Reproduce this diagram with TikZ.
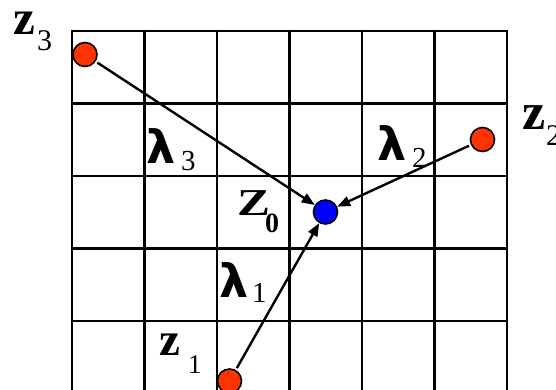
\documentclass[tikz,border=0pt]{standalone}
\usepackage{fontspec}
\setmainfont{Liberation Serif}
\newfontfamily\lamfont{DejaVu Sans}
\usetikzlibrary{arrows.meta}
\definecolor{dotred}{RGB}{255,51,0}
\definecolor{dotblue}{RGB}{0,0,255}
\tikzset{
  gridline/.style={line width=2.8pt, black},
  dot/.style={circle, draw=black, line width=1.6pt, minimum size=24pt, inner sep=0pt},
  conn/.style={line width=2.4pt, -{Triangle[length=13pt,width=10pt]}, shorten <=2pt, shorten >=0pt},
  lbl/.style={anchor=base west, inner sep=0pt, outer sep=0pt},
}
\begin{document}
\begin{tikzpicture}[x=1pt,y=-1pt]
\useasboundingbox (0,0) rectangle (556,389);
% grid
\foreach \i in {0,...,6} {
  \draw[gridline] (72+72.5*\i,29.6) -- (72+72.5*\i,395);
}
\foreach \j in {0,...,4} {
  \draw[gridline] (70.6,31+72.5*\j) -- (508.4,31+72.5*\j);
}
% dots
\node[dot, fill=dotred] (z3) at (85,54.5) {};
\node[dot, fill=dotred] (z2) at (482.5,139.5) {};
\node[dot, fill=dotred] (z1) at (229.5,381) {};
\node[dot, fill=dotblue] (z0) at (325.5,212) {};
% connectors
\draw[conn] (z3) -- (z0);
\draw[conn] (z2) -- (z0);
\draw[conn] (z1) -- (z0);
% labels
\node[lbl] (z3t) at (13,34) {\fontsize{49}{49}\selectfont\bfseries z};
\node[lbl] (z3s) at (37,50) {\fontsize{30}{30}\selectfont 3};
\node[lbl] (z2t) at (522,129) {\fontsize{52}{52}\selectfont\bfseries z};
\node[lbl] (z2s) at (546,145) {\fontsize{30}{30}\selectfont 2};
\node[lbl] (z1t) at (159,355) {\fontsize{47}{47}\selectfont\bfseries z};
\node[lbl] (z1s) at (188,373) {\fontsize{27}{27}\selectfont 1};
\node[lbl] (z0t) at (237,215) {\scalebox{1.3}[1]{\fontsize{38}{38}\selectfont\bfseries Z}};
\node[lbl] (z0s) at (265,232) {\fontsize{28}{28}\selectfont\bfseries 0};
\node[lbl] (l3t) at (146,163) {\fontsize{46}{46}\selectfont\lamfont\bfseries λ};
\node[lbl] (l3s) at (181,170) {\fontsize{29}{29}\selectfont 3};
\node[lbl] (l2t) at (377,160) {\fontsize{46}{46}\selectfont\lamfont\bfseries λ};
\node[lbl] (l2s) at (412,167) {\fontsize{29}{29}\selectfont 2};
\node[lbl] (l1t) at (219,297) {\fontsize{46}{46}\selectfont\lamfont\bfseries λ};
\node[lbl] (l1s) at (252,302) {\fontsize{29}{29}\selectfont 1};
\end{tikzpicture}
\end{document}
